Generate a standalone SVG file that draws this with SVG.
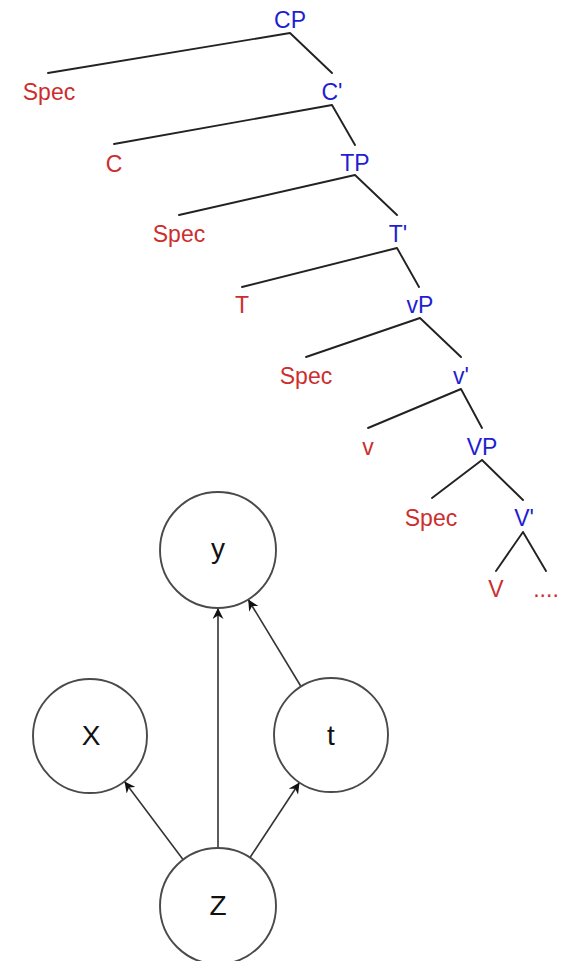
<svg xmlns="http://www.w3.org/2000/svg" width="568" height="961" viewBox="0 0 568 961">
<style>
.t{font-family:"Liberation Sans",Arial,sans-serif;font-size:23px;text-anchor:middle}
.r{fill:#cc2e2e}
.b{fill:#1e1ed2}
.e{stroke:#222;stroke-width:1.9;fill:none;stroke-linecap:round}
.c{fill:#fff;stroke:#4a4a4a;stroke-width:1.9}
.n{font-family:"Liberation Sans",Arial,sans-serif;font-size:28px;text-anchor:middle;fill:#111}
.a{stroke:#333;stroke-width:1.6;fill:none;marker-end:url(#arr)}
</style>
<defs>
<marker id="arr" markerUnits="userSpaceOnUse" markerWidth="13" markerHeight="11" refX="11" refY="5.5" orient="auto">
<path d="M0,0 L11,5.5 L0,11 L3.5,5.5 z" fill="#111"/>
</marker>
</defs>
<g id="tree-edges">
<path class="e" d="M290,33 L48,73 M290,33 L332,73"/>
<path class="e" d="M332,105 L114,144 M332,105 L355,145"/>
<path class="e" d="M355,175 L179,215 M355,175 L397,215"/>
<path class="e" d="M397,248 L242,287 M397,248 L419,287"/>
<path class="e" d="M420,318 L306,357 M420,318 L461,357"/>
<path class="e" d="M461,389 L368,428 M461,389 L482,428"/>
<path class="e" d="M482,460 L432,498 M482,460 L523,500"/>
<path class="e" d="M523,532 L496,571 M523,532 L546,571"/>
</g>
<g id="tree-labels">
<text id="CP" class="t b" x="290" y="28">CP</text>
<text id="Spec1" class="t r" x="49" y="100">Spec</text>
<text id="Cbar" class="t b" x="332" y="100">C'</text>
<text id="C" class="t r" x="114" y="172">C</text>
<text id="TP" class="t b" x="355" y="171">TP</text>
<text id="Spec2" class="t r" x="179" y="242">Spec</text>
<text id="Tbar" class="t b" x="398" y="242">T'</text>
<text id="T" class="t r" x="242" y="313">T</text>
<text id="vP" class="t b" x="420" y="313">vP</text>
<text id="Spec3" class="t r" x="306" y="384">Spec</text>
<text id="vbar" class="t b" x="461" y="384">v'</text>
<text id="v" class="t r" x="368" y="455">v</text>
<text id="VP" class="t b" x="482" y="455">VP</text>
<text id="Spec4" class="t r" x="431" y="526">Spec</text>
<text id="Vbar" class="t b" x="524" y="526">V'</text>
<text id="V" class="t r" x="496" y="597">V</text>
<text id="dots" class="t r" x="546" y="597">....</text>
</g>
<g id="connectors">
<line class="a" x1="183" y1="859.5" x2="124.5" y2="781.5"/>
<line class="a" x1="218" y1="848" x2="218" y2="608"/>
<line class="a" x1="250" y1="857.5" x2="299.5" y2="782.5"/>
<line class="a" x1="301" y1="686.5" x2="248.2" y2="599.5"/>
</g>
<g id="node-y"><circle class="c" cx="218" cy="550" r="58"/><text class="n" x="218" y="558">y</text></g>
<g id="node-X"><circle class="c" cx="90" cy="736" r="57"/><text class="n" x="91" y="745">X</text></g>
<g id="node-t"><circle class="c" cx="331" cy="735" r="57"/><text class="n" x="331" y="745">t</text></g>
<g id="node-Z"><circle class="c" cx="218" cy="906" r="58"/><text class="n" x="218" y="915">Z</text></g>
</svg>
